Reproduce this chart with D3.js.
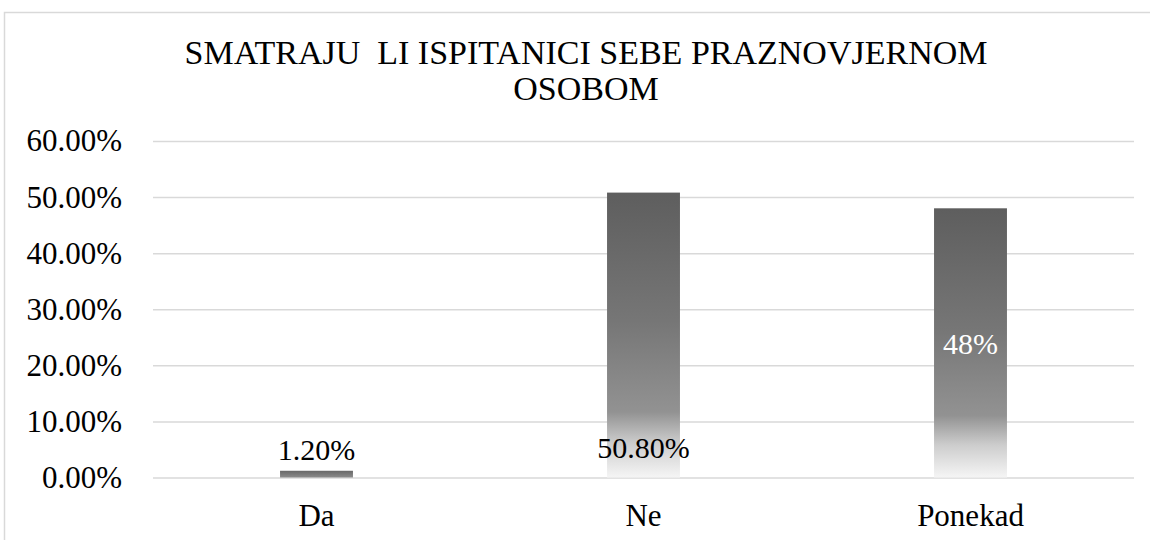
<!DOCTYPE html>
<html>
<head>
<meta charset="utf-8">
<script src="https://cdn.jsdelivr.net/npm/d3@7"></script>
<style>
  body { margin: 0; background: #fff; }
  svg { display: block; }
  svg text { font-family: "Liberation Serif", "Times New Roman", serif; }
</style>
</head>
<body>
<div id="chart"></div>
<script>
const categories = ['Da', 'Ne', 'Ponekad'];
const values = [1.2, 50.8, 48];
const labelTexts = ['1.20%', '50.80%', '48%'];
const yTicks = [0, 10, 20, 30, 40, 50, 60];
const titleLines = ['SMATRAJU  LI ISPITANICI SEBE PRAZNOVJERNOM', 'OSOBOM'];

const width = 1150;
const height = 540;
const plotLeft = 153;
const plotRight = 1134;
const plotTop = 141;
const plotBottom = 477.5;
const serif = 'Liberation Serif';

const svg = d3.select('#chart')
    .append('svg')
    .attr('width', width)
    .attr('height', height);

// chart frame
svg.append('path')
    .attr('d', 'M4.5,' + height + ' V12.5 H' + width)
    .attr('fill', 'none')
    .attr('stroke', '#d9d9d9')
    .attr('stroke-width', 1.5);

const xScale = d3.scaleBand()
    .domain(categories)
    .range([plotLeft, plotRight])
    .paddingInner(0.777)
    .paddingOuter(0.3885);

const yScale = d3.scaleLinear()
    .domain([0, 60])
    .range([plotBottom, plotTop]);

// gradients for bars
const defs = svg.append('defs');
const grad = defs.append('linearGradient')
    .attr('id', 'barGrad')
    .attr('x1', 0).attr('y1', 0)
    .attr('x2', 0).attr('y2', 1);
[[0, '#5e5e5e'], [0.45, '#767676'], [0.77, '#929292'], [0.88, '#cdcdcd'], [1, '#f5f5f5']]
    .forEach(s => grad.append('stop').attr('offset', s[0]).attr('stop-color', s[1]));

const smallGrad = defs.append('linearGradient')
    .attr('id', 'smallGrad')
    .attr('x1', 0).attr('y1', 0)
    .attr('x2', 0).attr('y2', 1);
[[0, '#686868'], [1, '#8c8c8c']]
    .forEach(s => smallGrad.append('stop').attr('offset', s[0]).attr('stop-color', s[1]));

// gridlines + y axis labels
const yAxis = d3.axisLeft(yScale)
    .tickValues(yTicks)
    .tickSize(-(plotRight - plotLeft))
    .tickPadding(31)
    .tickFormat(d => d.toFixed(2) + '%');

const gy = svg.append('g')
    .attr('transform', 'translate(' + plotLeft + ',0)')
    .call(yAxis);
gy.select('.domain').remove();
gy.selectAll('.tick line')
    .attr('stroke', '#d9d9d9')
    .attr('stroke-width', 1.5);
gy.selectAll('.tick text')
    .attr('fill', '#000')
    .style('font-family', serif)
    .style('font-size', '31px');

// bars
svg.selectAll('rect.bar')
    .data(values)
    .enter()
    .append('rect')
    .attr('class', 'bar')
    .attr('x', (d, i) => xScale(categories[i]))
    .attr('y', d => yScale(d))
    .attr('width', xScale.bandwidth())
    .attr('height', d => yScale(0) - yScale(d))
    .attr('fill', d => d < 5 ? 'url(#smallGrad)' : 'url(#barGrad)');

// data labels
const labelY = (d, i) => {
    if (i === 0) return yScale(d) - 11;
    if (i === 1) return yScale(0) - 20;
    return (yScale(d) + yScale(0)) / 2 + 11;
};
svg.selectAll('text.bar__label')
    .data(values)
    .enter()
    .append('text')
    .attr('class', 'bar__label')
    .attr('x', (d, i) => xScale(categories[i]) + xScale.bandwidth() / 2)
    .attr('y', labelY)
    .attr('text-anchor', 'middle')
    .style('font-family', serif)
    .style('font-size', '30px')
    .attr('fill', (d, i) => i === 2 ? '#fff' : '#000')
    .text((d, i) => labelTexts[i]);

// x axis labels
const xAxis = d3.axisBottom(xScale).tickSize(0).tickPadding(0);
const gx = svg.append('g')
    .attr('transform', 'translate(0,' + plotBottom + ')')
    .call(xAxis);
gx.select('.domain').remove();
gx.selectAll('.tick text')
    .attr('dy', null)
    .attr('y', 48)
    .attr('fill', '#000')
    .style('font-family', serif)
    .style('font-size', '31px');

// title
svg.append('text')
    .attr('text-anchor', 'middle')
    .attr('fill', '#000')
    .style('font-family', serif)
    .style('font-size', '34px')
    .style('white-space', 'pre')
    .selectAll('tspan')
    .data(titleLines)
    .enter()
    .append('tspan')
    .attr('x', 586)
    .attr('y', (d, i) => 64 + i * 36)
    .text(d => d);
</script>
</body>
</html>
